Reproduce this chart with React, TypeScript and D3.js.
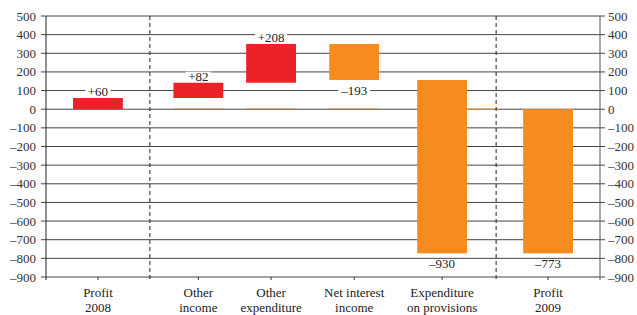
import React from "react";
import * as d3 from "d3";

// waterfall data (EUR m)
const categories = ["Profit 2008", "Other income", "Other expenditure", "Net interest income", "Expenditure on provisions", "Profit 2009"];
const labelLines = [["Profit", "2008"], ["Other", "income"], ["Other", "expenditure"], ["Net interest", "income"], ["Expenditure", "on provisions"], ["Profit", "2009"]];
const barStart = [0, 60, 142, 350, 157, 0];
const barEnd = [60, 142, 350, 157, -773, -773];
const valueLabels = ["+60", "+82", "+208", "\u2013193", "\u2013930", "\u2013773"];
const barKind = ["up", "up", "up", "down", "down", "down"];
// slot positions along the x axis (separators sit at 1.5 and 6.5)
const slotPos = [0.75, 2.2, 3.25, 4.45, 5.72, 7.25];
const separators = [1.5, 6.5];
const yTicks = d3.range(-900, 501, 100);

const fmt = (v: number) => (v < 0 ? "\u2013" + Math.abs(v) : String(v));

export default function App() {
  const width = 637;
  const height = 315;
  const left = 46;
  const right = 600;
  const top = 16;
  const bottom = 277;

  const x = d3.scaleLinear().domain([0, 8]).range([left, right]);
  const y = d3.scaleLinear().domain([-900, 500]).range([bottom, top]);
  const barW = x(0.72) - x(0);
  const red = "#ed2229";
  const orange = "#f68b1f";
  const font = "'Liberation Serif', 'Times New Roman', serif";

  return (
    <svg width={width} height={height} style={{ position: "absolute", left: 0, top: 0 }} fontFamily={font}>
      <rect width={width} height={height} fill="#fff" />
      {yTicks.map((t) => (
        <g key={t}>
          <line x1={left - 5} x2={right + 5} y1={y(t)} y2={y(t)} stroke="#444" strokeWidth={1} />
          <text x={left - 10} y={y(t) + 4.5} textAnchor="end" fontSize={13} fill="#333">{fmt(t)}</text>
          <text x={right + 8} y={y(t) + 4.5} textAnchor="start" fontSize={13} fill="#333">{fmt(t)}</text>
        </g>
      ))}
      <line x1={left} x2={left} y1={top} y2={bottom + 3} stroke="#222" />
      <line x1={right} x2={right} y1={top} y2={bottom + 3} stroke="#555" />
      {slotPos.map((p, i) => (
        <line key={"tk" + i} x1={x(p)} x2={x(p)} y1={bottom} y2={bottom + 3} stroke="#333" />
      ))}
      {/* thin base connectors at zero */}
      {slotPos.slice(1, 4).map((p, i) => (
        <line key={"base" + i} x1={x(p) - barW / 2} x2={x(p) + barW / 2} y1={y(0)} y2={y(0)} stroke="#b0703a" strokeWidth={1} />
      ))}
      <line x1={x(slotPos[4]) + barW / 2} x2={x(separators[1]) + 3} y1={y(0)} y2={y(0)} stroke={orange} strokeWidth={1} />
      {separators.map((s) => (
        <line key={"sep" + s} x1={x(s)} x2={x(s)} y1={top} y2={bottom + 3} stroke="#222" strokeDasharray="4,3" />
      ))}
      {categories.map((c, i) => {
        const y0 = y(Math.max(barStart[i], barEnd[i]));
        const y1 = y(Math.min(barStart[i], barEnd[i]));
        const cx = x(slotPos[i]);
        const up = barKind[i] === "up";
        const ly = up ? y0 - 2 : y1 + 15;
        const lw = valueLabels[i].length * 6.5 + 6;
        return (
          <g key={c}>
            <rect x={cx - barW / 2} y={y0} width={barW} height={y1 - y0} fill={up ? red : orange} />
            <rect x={cx - lw / 2} y={ly - 9} width={lw} height={10} fill="#fff" />
            <text x={cx} y={ly} textAnchor="middle" fontSize={13} fill="#222">{valueLabels[i]}</text>
            {labelLines[i].map((l, j) => (
              <text key={j} x={cx} y={297 + j * 15} textAnchor="middle" fontSize={13} fill="#222">{l}</text>
            ))}
          </g>
        );
      })}
    </svg>
  );
}
